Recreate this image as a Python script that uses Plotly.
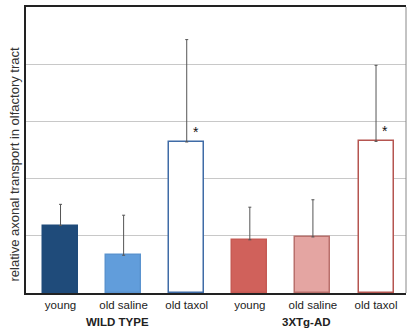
import plotly.graph_objects as go

categories = ["young", "old saline", "old taxol", "young", "old saline", "old taxol"]
groups = ["WILD TYPE", "3XTg-AD"]
group_centers = [1, 4]
values = [1.18, 0.66, 2.64, 0.93, 0.98, 2.65]
err_upper = [0.37, 0.70, 1.79, 0.57, 0.65, 1.33]
significant = [False, False, True, False, False, True]
y_title = "relative axonal transport in olfactory tract"

fill_colors = ["#1f4b7a", "#619ddb", "#ffffff", "#d0615b", "#e4a5a2", "#ffffff"]
line_colors = ["#1f4b7a", "#5a93cf", "#3f6ba6", "#c65a54", "#b9706c", "#b55550"]

xs = list(range(len(categories)))
FONT = "Liberation Sans, Arial, sans-serif"

fig = go.Figure()
fig.add_trace(go.Bar(
    x=xs, y=values, width=0.555,
    marker=dict(color=fill_colors, line=dict(color=line_colors, width=1.5)),
    error_y=dict(type="data", array=err_upper, arrayminus=[0] * len(values),
                 symmetric=False, color="#555555", thickness=1, width=1.5),
    showlegend=False, hoverinfo="skip",
))

for i, (v, s) in enumerate(zip(values, significant)):
    if s:
        fig.add_annotation(x=i + 0.15, y=v + 0.0, xref="x", yref="y", text="*",
                           showarrow=False, yanchor="bottom",
                           font=dict(family=FONT, size=14, color="#111"))

for g, c in zip(groups, group_centers):
    fig.add_annotation(x=c - 0.1, y=-0.075, xref="x", yref="paper",
                       text="<b>%s</b>" % g, showarrow=False, yanchor="top",
                       font=dict(family=FONT, size=11.5, color="#222"))

fig.add_annotation(x=-0.03, y=0.448, xref="paper", yref="paper", text=y_title,
                   textangle=-90, showarrow=False, xanchor="center", yanchor="middle",
                   font=dict(family=FONT, size=13, color="#333"))

fig.add_shape(type="line", xref="paper", yref="paper", x0=1, x1=1, y0=0, y1=1,
              line=dict(color="#888", width=1))

fig.update_layout(
    width=409, height=332,
    margin=dict(l=26, r=3, t=7, b=39, autoexpand=False),
    paper_bgcolor="white", plot_bgcolor="white",
    bargap=0,
    xaxis=dict(tickmode="array", tickvals=xs, ticktext=categories,
               range=[-0.547, 5.475], showgrid=False, zeroline=False,
               showline=True, linecolor="#222", linewidth=2, mirror=True,
               ticks="", automargin=False,
               tickfont=dict(family=FONT, size=11.5, color="#222")),
    yaxis=dict(range=[0, 5], dtick=1, showgrid=True, gridcolor="#c8c8c8", gridwidth=1,
               zeroline=False, showticklabels=False, showline=True, automargin=False,
               linecolor="#222", linewidth=2, ticks=""),
)

fig.write_html("out.html", config={"displayModeBar": False},
               post_script="document.body.style.margin='0';document.body.style.padding='0';")
